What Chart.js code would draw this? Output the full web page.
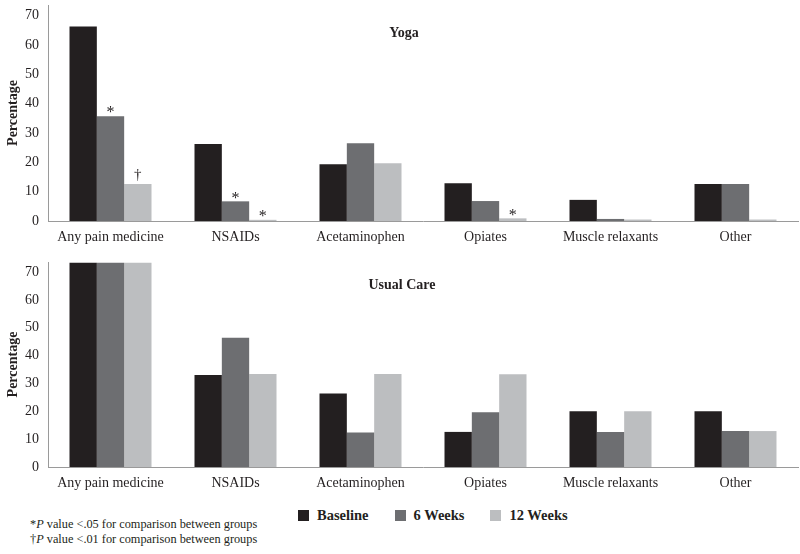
<!DOCTYPE html>
<html>
<head>
<meta charset="utf-8">
<script src="https://cdn.jsdelivr.net/npm/chart.js@4.4.1/dist/chart.umd.min.js"></script>
<style>
  body{margin:0;background:#fff;width:800px;height:554px;overflow:hidden;position:relative;font-family:"Liberation Serif",serif;color:#231f20}
  canvas{position:absolute;left:0}
  #top{top:0}
  #bottom{top:248px}
  .legend{position:absolute;top:507px;left:298px;display:flex;font-weight:bold;font-size:14.5px}
  .legend .item{display:flex;align-items:center;margin-right:26px}
  .legend .sq{width:11px;height:11px;margin-right:8px}
  .notes{position:absolute;left:30px;top:517px;font-size:12.3px;line-height:15px}
</style>
</head>
<body>
<canvas id="top" width="800" height="248"></canvas>
<canvas id="bottom" width="800" height="248"></canvas>
<div class="legend" id="legend"></div>
<div class="notes">
  <div>*<i>P</i> value &lt;.05 for comparison between groups</div>
  <div>†<i>P</i> value &lt;.01 for comparison between groups</div>
</div>
<script>
const categories = ['Any pain medicine','NSAIDs','Acetaminophen','Opiates','Muscle relaxants','Other']
const seriesNames = ['Baseline','6 Weeks','12 Weeks']
const colors = ['#231f20','#6d6e71','#bcbec0']

const yogaBaseline = [66.3, 26.2, 19.3, 12.9, 7.2, 12.6]
const yoga6wk      = [35.7, 6.7, 26.5, 6.8, 0.7, 12.6]
const yoga12wk     = [12.6, 0.4, 19.7, 0.9, 0.5, 0.5]

const usualBaseline = [73.3, 33.0, 26.4, 12.6, 20.0, 20.0]
const usual6wk      = [73.3, 46.4, 12.4, 19.7, 12.6, 12.9]
const usual12wk     = [73.3, 33.4, 33.4, 33.3, 20.0, 12.9]

// significance marks above the yoga bars
const yogaMarks6wk  = ['*','*','','','','']
const yogaMarks12wk = ['†','*','','*','','']

const yTicks = [0,10,20,30,40,50,60,70]

const serif = '"Liberation Serif", serif'

// draws "*" / "†" over bars
const marksPlugin = {
  id: 'marks',
  afterDatasetsDraw(chart){
    const ctx = chart.ctx
    ctx.save()
    ctx.fillStyle = '#231f20'
    ctx.textAlign = 'center'
    ctx.textBaseline = 'bottom'
    chart.data.datasets.forEach((ds,di)=>{
      if(!ds.marks) return
      const meta = chart.getDatasetMeta(di)
      ds.marks.forEach((m,i)=>{
        if(!m) return
        const bar = meta.data[i]
        if(m==='*'){
          ctx.font = '16px ' + serif
          ctx.fillText(m, bar.x, bar.y + 5)
        }else{
          ctx.font = '15px ' + serif
          ctx.fillText(m, bar.x, bar.y - 1)
        }
      })
    })
    ctx.restore()
  }
}

// panel name in the plot
const panelPlugin = {
  id: 'panel',
  afterDraw(chart, args, opts){
    const ctx = chart.ctx
    ctx.save()
    ctx.font = 'bold 14px ' + serif
    ctx.fillStyle = '#231f20'
    ctx.textAlign = 'center'
    ctx.textBaseline = 'middle'
    ctx.fillText(opts.text, opts.x, chart.chartArea.top + opts.dy)
    ctx.restore()
  }
}

const makeChart = (id, values, marks, panel, padTop, axisH) => {
  const datasets = values.map((v,i)=>({
    label: seriesNames[i],
    data: v,
    backgroundColor: colors[i],
    borderWidth: 0,
    categoryPercentage: 0.656,
    barPercentage: 1.0,
    marks: marks[i]
  }))
  return new Chart(document.getElementById(id), {
    type: 'bar',
    data: { labels: categories, datasets: datasets },
    options: {
      responsive: false,
      animation: false,
      layout: { padding: { top: padTop, right: 2, left: 0, bottom: 0 } },
      plugins: {
        legend: { display: false },
        tooltip: { enabled: false },
        panel: panel
      },
      scales: {
        x: {
          grid: { display: false, drawTicks: false },
          border: { color: '#9a9a9a', width: 1 },
          ticks: { color: '#231f20', font: { family: serif, size: 14 }, padding: 8, maxRotation: 0, autoSkip: false },
          afterFit: s => { s.height = axisH; s.paddingLeft = 0; s.paddingRight = 0 }
        },
        y: {
          min: 0,
          max: 73.6,
          grid: { display: false, drawTicks: false },
          border: { color: '#9a9a9a', width: 1 },
          ticks: { color: '#231f20', font: { family: serif, size: 14 }, padding: 9 },
          afterBuildTicks: s => { s.ticks = yTicks.map(v=>({value:v})) },
          title: { display: true, text: 'Percentage', color: '#231f20', font: { family: serif, size: 14, weight: 'bold' }, padding: { top: 5, bottom: 0 } },
          afterFit: s => { s.width = 48; s.paddingTop = 0; s.paddingBottom = 0 }
        }
      }
    },
    plugins: [marksPlugin, panelPlugin]
  })
}

makeChart('top', [yogaBaseline, yoga6wk, yoga12wk], [null, yogaMarks6wk, yogaMarks12wk],
  { text: 'Yoga', x: 404, dy: 28 }, 5, 27)
makeChart('bottom', [usualBaseline, usual6wk, usual12wk], [null, null, null],
  { text: 'Usual Care', x: 402, dy: 23 }, 14, 29)

const legend = document.getElementById('legend')
seriesNames.forEach((name,i)=>{
  const item = document.createElement('div')
  item.className = 'item'
  item.innerHTML = `<span class="sq" style="background:${colors[i]}"></span>${name}`
  legend.appendChild(item)
})
</script>
</body>
</html>
